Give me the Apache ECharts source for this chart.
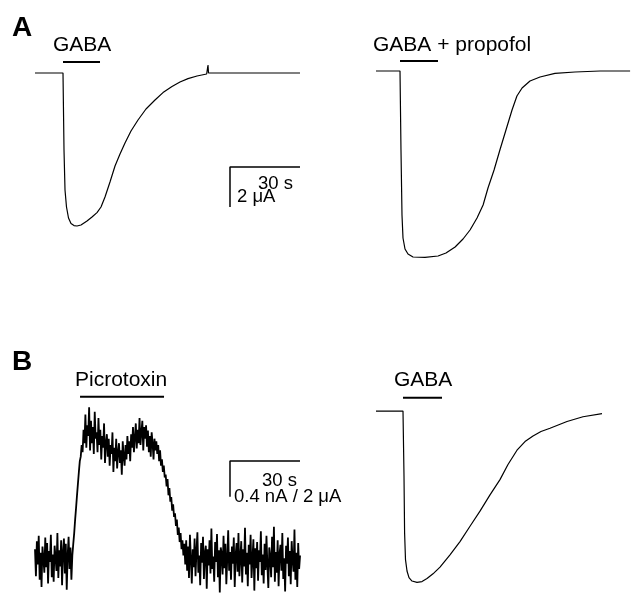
<!DOCTYPE html>
<html>
<head>
<meta charset="utf-8">
<script src="https://cdn.jsdelivr.net/npm/echarts@6/dist/echarts.min.js"></script>
<style>
  html, body { margin: 0; padding: 0; background: #fff; }
  #container { width: 631px; height: 596px; }
</style>
</head>
<body>
<div id="container"></div>
<script>
// traces: [time (s), current]
var gabaA = [[0,0],[12,0],[12.43,-3.85],[12.86,-5.85],[13.5,-6.7],[14.36,-7.25],[15.43,-7.53],
  [16.71,-7.63],[18,-7.65],[19.71,-7.6],[22.29,-7.4],[24.43,-7.2],[26.57,-6.98],[28.29,-6.7],
  [30,-6.2],[32.14,-5.45],[34.29,-4.65],[36.43,-4.05],[38.57,-3.5],[41.14,-2.9],[44.14,-2.35],
  [47.57,-1.8],[51.43,-1.35],[54.86,-0.98],[58.71,-0.68],[62.14,-0.45],[65.57,-0.28],
  [69.43,-0.15],[73.57,-0.05],[73.93,-0.02],[74.14,0.4],[74.36,0],[113.57,0]]

var propofolA = [[0,0],[10.29,0],[10.71,-3.95],[11.14,-7.2],[11.57,-8.35],[12.43,-8.9],
  [13.71,-9.15],[15.86,-9.3],[21,-9.32],[26.6,-9.25],[30,-9.1],[33.9,-8.8],[37.3,-8.4],
  [40.3,-7.95],[43.3,-7.35],[45.9,-6.7],[48,-5.85],[50.6,-4.95],[53.1,-3.95],[55.7,-2.95],
  [58.3,-1.95],[60.4,-1.25],[62.6,-0.85],[66,-0.5],[70.3,-0.3],[76.7,-0.12],[85.3,-0.05],
  [96,0],[108.9,0]]

// picrotoxin current (nA), sampled every 0.4 s
var picroDt = 0.4
var picroNA = [
  0.12,-0.18,0.21,-0.05,0.27,-0.22,0.08,-0.30,0.15,0.02,
  -0.14,0.25,-0.08,0.19,-0.26,0.10,-0.02,0.28,-0.19,0.06,
  -0.24,0.16,0.03,-0.12,0.30,-0.20,0.11,-0.07,0.22,-0.28,
  0.09,0.24,-0.15,0.18,-0.33,0.05,0.26,-0.10,0.14,-0.22,
  0.05,0.18,0.30,0.45,0.58,0.72,0.85,0.98,1.10,1.15,
  1.28,1.20,1.45,1.30,1.62,1.25,1.50,1.38,1.70,1.22,
  1.55,1.30,1.48,1.18,1.65,1.35,1.42,1.20,1.58,1.28,
  1.45,1.12,1.38,1.25,1.52,1.08,1.30,1.40,1.15,1.35,
  1.05,1.28,1.18,1.42,0.98,1.25,1.10,1.35,1.02,1.20,
  1.30,1.08,1.22,0.95,1.32,1.15,1.05,1.28,1.12,1.38,
  1.18,1.32,1.10,1.40,1.25,1.48,1.20,1.36,1.52,1.24,
  1.45,1.30,1.58,1.28,1.42,1.55,1.22,1.48,1.35,1.50,
  1.26,1.44,1.20,1.38,1.15,1.42,1.30,1.12,1.35,1.22,
  1.32,1.18,1.28,1.10,1.22,1.05,1.12,0.98,1.05,0.92,
  0.95,0.82,0.90,0.72,0.80,0.65,0.70,0.55,0.62,0.48,
  0.52,0.38,0.45,0.28,0.36,0.20,0.30,0.12,0.22,0.05,
  0.18,-0.05,0.22,-0.12,0.15,-0.20,0.28,0.02,-0.26,0.12,
  -0.08,0.24,-0.18,0.10,0.31,-0.14,0.05,-0.28,0.19,-0.03,
  0.26,-0.21,0.08,0.16,-0.32,0.12,-0.06,0.22,-0.15,0.35,
  -0.10,0.04,-0.24,0.20,-0.02,0.29,-0.19,0.11,-0.36,0.14,
  0.07,-0.16,0.27,-0.09,0.18,-0.27,0.02,0.33,-0.12,0.09,
  -0.22,0.15,-0.04,0.25,-0.30,0.06,0.19,-0.13,0.30,-0.18,
  0.03,0.21,-0.25,0.12,-0.07,0.36,-0.16,0.08,-0.29,0.17,
  -0.05,0.28,-0.20,0.01,0.23,-0.34,0.13,-0.09,0.20,-0.23,
  0.11,-0.02,0.32,-0.17,0.06,-0.26,0.18,-0.11,0.27,-0.06,
  -0.31,0.14,0.04,-0.19,0.26,-0.08,0.37,-0.24,0.09,-0.14,
  0.22,-0.29,0.07,0.17,-0.12,0.30,-0.21,0.02,-0.35,0.16,
  -0.04,0.25,-0.18,0.10,-0.27,0.21,0.00,-0.13,0.34,-0.22,
  0.08,-0.30,0.19,-0.10,0.05]

var gabaB = [[0,0],[11.57,0],[12,-3.68],[12.26,-6.92],[12.64,-8.43],[13.29,-9.08],[14.14,-9.46],
  [15.43,-9.65],[17.57,-9.73],[19.71,-9.68],[21.86,-9.51],[24.43,-9.24],[27.43,-8.86],
  [31.71,-8.16],[36,-7.41],[40.29,-6.54],[44.57,-5.68],[48.86,-4.76],[53.14,-3.89],
  [56.57,-3.03],[60.43,-2.22],[63.86,-1.73],[67.29,-1.41],[70.71,-1.16],[74.57,-0.97],
  [81.86,-0.59],[88.71,-0.32],[96.86,-0.14]]

// application bars: [start s, end s, level]
var barGabaA = [12, 27.86, 0.55]
var barPropofol = [10.29, 26.57, 0.5]
var barPicro = [19.3, 55.3, 1.816]
var barGabaB = [11.57, 28.29, 0.757]

// scale bars: 30 s, 2 uA / 0.4 nA
var scaleSec = 30
var scaleA = [83.57, -4.7, 2]
var scaleB = [83.57, 1.103, 0.4]

var font = '"Liberation Sans", Arial, sans-serif'

function trace(idx, data, w){
    return {
        type: 'line', xAxisIndex: idx, yAxisIndex: idx, data: data,
        showSymbol: false, symbol: 'none', clip: false, silent: true,
        lineStyle: {color: '#000', width: w || 1.2}
    }
}
function bar(idx, b){
    return trace(idx, [[b[0], b[2]], [b[1], b[2]]], 2)
}
function scale(idx, s){
    return trace(idx, [[s[0] + scaleSec, s[1]], [s[0], s[1]], [s[0], s[1] - s[2]]], 1.5)
}
function txt(x, y, s, size, bold){
    return {
        type: 'text', left: x, top: y - size / 2,
        style: {text: s, fill: '#000', font: (bold ? 'bold ' : '') + size + 'px ' + font}
    }
}

var picro = picroNA.map(function(v, i){ return [+(i * picroDt).toFixed(2), v] })

var grids = [
    {left: 35, top: 53, width: 266, height: 200},
    {left: 376, top: 51, width: 255, height: 220},
    {left: 35, top: 389.25, width: 267, height: 212.75},
    {left: 376, top: 393.5, width: 255, height: 212.75}
]
var xr = [[0, 114], [0, 109.29], [0, 114.43], [0, 109.29]]
var yr = [[-9, 1], [-10, 1], [-0.4, 1.9], [-10.5, 1]]

var option = {
    animation: false,
    grid: grids,
    xAxis: xr.map(function(r, i){ return {type: 'value', gridIndex: i, min: r[0], max: r[1], show: false} }),
    yAxis: yr.map(function(r, i){ return {type: 'value', gridIndex: i, min: r[0], max: r[1], show: false} }),
    series: [
        trace(0, gabaA), bar(0, barGabaA), scale(0, scaleA),
        trace(1, propofolA), bar(1, barPropofol),
        trace(2, picro, 1.8), bar(2, barPicro), scale(2, scaleB),
        trace(3, gabaB), bar(3, barGabaB)
    ],
    graphic: [
        txt(12, 28, 'A', 28, true),
        txt(12, 362, 'B', 28, true),
        txt(53, 45, 'GABA', 21),
        txt(373, 45, 'GABA + propofol', 21),
        txt(75, 380, 'Picrotoxin', 21),
        txt(394, 380, 'GABA', 21),
        txt(258, 184, '30 s', 18.5),
        txt(237, 197, '2 \u03bcA', 18.5),
        txt(262, 481, '30 s', 18.5),
        txt(234, 497, '0.4 nA / 2 \u03bcA', 18.5)
    ]
}

var myChart = echarts.init(document.getElementById('container'))
myChart.setOption(option)
</script>
</body>
</html>
